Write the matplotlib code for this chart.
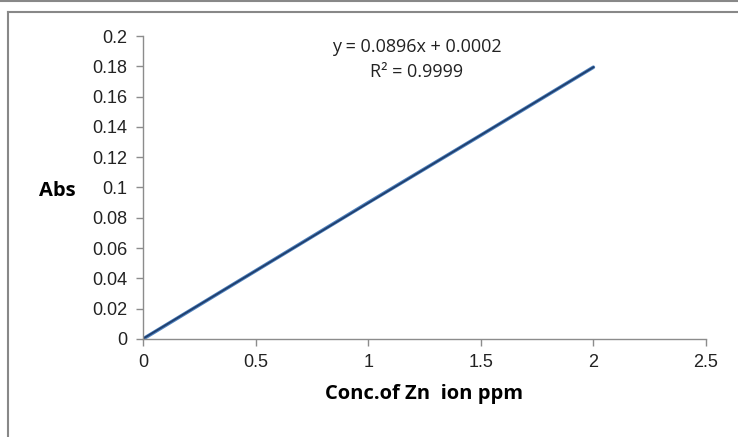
import matplotlib.pyplot as plt
from matplotlib.lines import Line2D

# Calibration data: concentration of Zn ion (ppm) vs absorbance
conc = [0, 0.5, 1.0, 1.5, 2.0]
absorb = [0.0, 0.045, 0.09, 0.1345, 0.1794]

# Linear trendline reported on the chart
slope = 0.0896
intercept = 0.0002
r2 = 0.9999

xticks = [0, 0.5, 1, 1.5, 2, 2.5]
yticks = [0, 0.02, 0.04, 0.06, 0.08, 0.1, 0.12, 0.14, 0.16, 0.18, 0.2]

fig = plt.figure(figsize=(7.38, 4.37), dpi=100)
ax = fig.add_axes([0.1938, 0.2243, 0.7628, 0.6933])

# data series (lighter blue) with trendline on top (dark blue)
ax.plot(conc, absorb, color='#4F81BD', lw=2.6, solid_capstyle='round')
trend = [slope * x + intercept for x in [conc[0], conc[-1]]]
ax.plot([conc[0], conc[-1]], trend, color='#1F3F6E', lw=1.3)

ax.set_xlim(0, 2.5)
ax.set_ylim(0, 0.2)
ax.set_xticks(xticks)
ax.set_xticklabels([f'{t:g}' for t in xticks])
ax.set_yticks(yticks)
ax.set_yticklabels([f'{t:g}' for t in yticks])

grey = '#8c8c8c'
for s in ['top', 'right']:
    ax.spines[s].set_visible(False)
for s in ['left', 'bottom']:
    ax.spines[s].set_color(grey)
    ax.spines[s].set_linewidth(1.0)
ax.tick_params(direction='out', length=5, width=1.0, color=grey,
               labelsize=13, labelcolor='#222222', pad=6)
for lab in ax.get_xticklabels() + ax.get_yticklabels():
    lab.set_family('Liberation Sans')

ax.set_xlabel('Conc.of Zn  ion ppm', fontsize=14.5, fontweight='bold',
              family='Open Sans', labelpad=9)
ax.set_ylabel('Abs', fontsize=14.5, fontweight='bold', family='Open Sans',
              rotation=0, va='center', labelpad=0)
ax.yaxis.set_label_coords(-0.153, 0.49)

ax.text(0.486, 0.923, f'y = {slope}x + {intercept}\nR² = {r2}',
        transform=ax.transAxes, ha='center', va='center', fontsize=13,
        family='Open Sans', color='#222222', linespacing=1.5)

# outer chart frame
fig.add_artist(Line2D([0, 1], [0.998, 0.998], color='#888888', lw=1.5))
fig.add_artist(Line2D([0.0105, 1], [0.9735, 0.9735], color='#888888', lw=1.5))
fig.add_artist(Line2D([0.0105, 0.0105], [0, 0.9735], color='#888888', lw=1.5))

fig.savefig('out.png', dpi=100)
